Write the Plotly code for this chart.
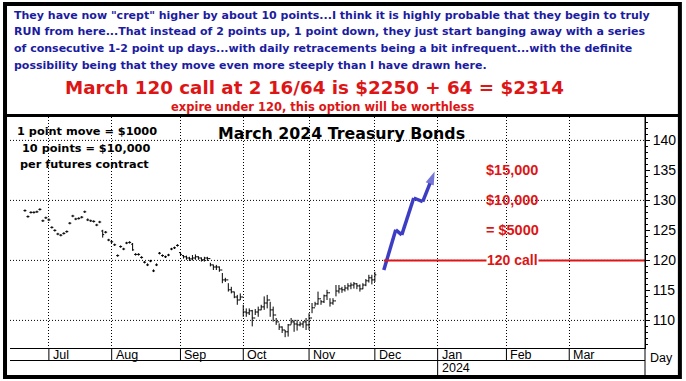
import plotly.graph_objects as go
import pandas as pd

# ---------------- data ----------------
first_bar_date = "2023-06-21"
closes = [128.3,127.3,128.0,128.0,128.1,128.5,126.6,127.1,126.75,125.5,
          125.0,124.4,124.2,124.5,124.8,126.2,127.4,126.9,127.0,127.2,
          128.1,126.75,126.6,126.5,125.9,126.4,124.3,124.7,123.4,123.1,
          122.6,120.8,122.3,121.9,122.9,123.0,121.75,121.0,121.0,120.5,
          119.7,119.25,119.9,118.25,119.25,121.2,120.8,120.6,120.9,121.9,
          122.1,122.5,121.0,120.6,120.4,120.25,120.4,120.6,120.4,120.1,
          120.4,120.3,119.25,118.9,118.9,118.4,116.75,116.75,115.1,114.75,
          113.9,113.4,113.9,111.4,111.25,111.6,110.4,111.4,111.75,112.25,
          112.9,113.4,111.75,110.9,109.75,108.9,108.4,108.1,109.25,109.75,
          109.4,109.25,109.4,109.75,109.25,110.4,112.1,112.75,113.6,113.1,
          114.1,114.6,112.9,113.25,114.9,115.25,115.1,115.4,115.75,115.9,
          116.1,115.75,115.25,115.9,116.6,117.1,116.75,117.6]
opens = [128.3,127.3,128.0,128.0,128.1,128.5,126.6,127.1,126.75,125.5,
         125.0,124.4,124.2,124.5,124.8,126.2,127.4,126.9,127.0,127.2,
         128.1,126.75,126.6,126.5,125.9,126.4,124.9,124.7,123.4,123.1,
         122.6,120.8,122.3,121.9,122.9,123.0,122.7,121.0,121.0,120.5,
         119.7,119.25,119.9,118.25,119.25,121.2,120.8,120.6,120.9,121.9,
         122.1,122.5,121.3,120.8,120.6,120.4,120.25,120.4,120.6,120.4,
         120.1,120.4,120.3,119.25,118.9,118.9,118.4,116.75,116.75,115.1,
         114.75,113.9,113.4,113.9,111.4,111.25,111.6,110.4,111.4,111.75,
         112.25,112.9,113.4,111.75,110.9,109.75,108.9,108.4,108.1,109.25,
         109.75,109.4,109.25,109.4,109.75,109.25,110.4,112.1,112.75,113.6,
         113.1,114.1,114.6,112.9,113.25,114.9,115.25,115.1,115.4,115.75,
         115.9,116.1,115.75,115.25,115.9,116.6,117.1,116.75]
highs = [128.5,127.5,128.2,128.2,128.3,128.7,126.8,127.3,127.0,125.7,
         125.2,124.6,124.4,124.7,125.0,126.4,127.6,127.1,127.2,127.4,
         128.3,127.0,126.8,126.7,126.1,126.6,125.1,124.9,123.6,123.3,
         122.8,121.0,122.5,122.1,123.1,123.2,122.9,121.2,121.2,120.7,
         119.9,119.5,120.1,118.5,119.5,121.4,121.0,120.8,121.1,122.1,
         122.3,122.7,121.4,120.9,120.8,120.6,120.9,121.0,120.7,120.5,
         120.6,120.6,119.6,119.3,119.25,119.0,117.9,117.1,116.2,115.6,
         114.8,114.25,114.5,112.6,112.0,112.0,111.75,111.9,112.3,112.6,
         114.0,114.25,113.1,112.3,110.4,109.5,109.0,108.4,109.4,110.4,
         110.1,110.1,109.8,109.9,110.4,111.2,112.9,113.1,114.8,113.4,
         114.3,115.1,113.7,113.7,115.9,115.9,115.6,115.9,116.2,116.3,
         116.4,116.2,116.0,116.2,116.9,117.6,117.6,118.1]
lows = [128.1,127.1,127.8,127.8,127.9,128.3,126.4,126.9,126.55,125.3,
        124.8,124.2,124.0,124.3,124.6,126.0,127.2,126.7,126.8,127.0,
        127.9,126.55,126.4,126.3,125.7,126.2,123.8,124.5,123.2,122.9,
        122.4,120.6,122.1,121.7,122.7,122.8,121.6,120.8,120.8,120.3,
        119.5,119.05,119.7,118.05,119.05,121.0,120.6,120.4,120.7,121.7,
        121.9,122.3,120.8,120.3,120.1,119.9,120.0,120.1,120.1,119.8,
        119.8,119.9,119.0,118.4,118.4,118.1,116.2,116.4,114.8,114.5,
        113.7,112.6,113.4,110.6,110.6,110.9,109.0,110.9,110.6,111.7,
        111.75,112.0,110.6,109.8,109.25,108.4,107.9,107.2,107.3,109.3,
        108.1,108.3,109.0,108.75,108.4,108.4,111.2,112.3,112.6,112.6,
        112.9,113.4,112.3,112.6,114.0,114.5,114.6,114.8,115.0,115.2,
        115.3,115.2,114.8,115.2,115.7,116.3,116.0,116.4]

proj_dates = ["2023-12-06","2023-12-12","2023-12-14","2023-12-20","2023-12-25","2023-12-29"]
proj_values = [118.4,125.1,124.25,130.4,129.8,134.8]

strike = 120
strike_label = "120 call"
profit_levels = [135, 130, 125]
profit_labels = ["$15,000", "$10,000", "= $5000"]
label_date = "2024-02-05"

grid_levels = [110, 120, 130, 140]
y_ticks = [110, 115, 120, 125, 130, 135, 140]
month_starts = ["2023-07-03","2023-08-01","2023-09-01","2023-10-02","2023-11-01",
                "2023-12-01","2024-01-01","2024-02-01","2024-03-01"]
month_labels = ["Jul","Aug","Sep","Oct","Nov","Dec","Jan","Feb","Mar"]
year_label = "2024"
year_start = "2024-01-01"
x_range = ["2023-06-14", "2024-04-05 08:00"]
y_range = [105.4, 143.9]

title = "March 2024 Treasury Bonds"
notes_left = ["1 point move = $1000", "10 points = $10,000", "per futures contract"]
header_lines = [
    'They have now "crept" higher by about 10 points...I think it is highly probable that they begin to truly',
    'RUN from here...That instead of 2 points up, 1 point down, they just start banging away with a series',
    'of consecutive 1-2 point up days...with daily retracements being a bit infrequent...with the definite',
    'possibility being that they move even more steeply than I have drawn here.',
]
headline = "March 120 call at 2 16/64 is $2250 + 64 = $2314"
subline = "expire under 120, this option will be worthless"

# ---------------- layout helpers ----------------
W, H = 686, 381
L, R, T, B = 10, 647, 117, 348
def px(X):
    return (X - L) / (R - L)
def py(Y):
    return (B - Y) / (B - T)

FONT = "Liberation Sans"
WIDE = "DejaVu Sans"
BLUE_TXT = "#1c1ca0"
RED = "#dd1515"
ARROW = "#3d3dc4"

dates = pd.bdate_range(first_bar_date, periods=len(closes))

fig = go.Figure()
fig.add_trace(go.Ohlc(
    x=dates, open=opens, high=highs, low=lows, close=closes,
    increasing=dict(line=dict(color="black", width=1)),
    decreasing=dict(line=dict(color="black", width=1)),
    tickwidth=0.5, showlegend=False, hoverinfo="skip"))

fig.add_trace(go.Scatter(
    x=proj_dates, y=proj_values, mode="lines+markers",
    line=dict(color=ARROW, width=3.5),
    marker=dict(symbol="arrow", size=[0]*(len(proj_values)-1) + [14],
                angleref="previous", color=ARROW, line=dict(width=0)),
    showlegend=False, hoverinfo="skip"))

shapes = []
for g in grid_levels:
    shapes.append(dict(type="line", xref="paper", yref="y", x0=0, x1=1, y0=g, y1=g,
                       line=dict(color="black", width=1, dash="1px,2px"), layer="below"))
shapes.append(dict(type="line", xref="x", yref="y", x0=proj_dates[0], x1=x_range[1],
                   y0=strike, y1=strike, line=dict(color=RED, width=2)))
shapes.append(dict(type="line", xref="paper", yref="paper", x0=0, x1=1,
                   y0=py(360.5), y1=py(360.5), line=dict(color="black", width=1)))
for d in month_starts:
    bottom = 376 if d == year_start else 360.5
    shapes.append(dict(type="line", xref="x", yref="paper", x0=d, x1=d,
                       y0=py(348), y1=py(bottom), line=dict(color="black", width=1)))
shapes.append(dict(type="line", xref="paper", yref="paper", x0=1, x1=1,
                   y0=py(116), y1=py(377), line=dict(color="black", width=1)))
shapes.append(dict(type="line", xref="paper", yref="paper", x0=px(5), x1=px(682),
                   y0=py(115.5), y1=py(115.5), line=dict(color="black", width=3)))
shapes.append(dict(type="rect", xref="paper", yref="paper", x0=px(5), x1=px(682),
                   y0=py(4), y1=py(377), line=dict(color="black", width=4)))

ann = []
for i, t in enumerate(header_lines):
    ann.append(dict(text="<b>%s</b>" % t, xref="paper", yref="paper", x=px(12),
                    y=py(15 + i * 16.7), xanchor="left", yanchor="middle", showarrow=False,
                    font=dict(family=WIDE, size=11, color=BLUE_TXT)))
ann.append(dict(text="<b>%s</b>" % headline, xref="paper", yref="paper", x=px(315), y=py(88),
                xanchor="center", yanchor="middle", showarrow=False,
                font=dict(family=WIDE, size=18.3, color=RED)))
ann.append(dict(text="<b>%s</b>" % subline, xref="paper", yref="paper", x=px(323), y=py(106.5),
                xanchor="center", yanchor="middle", showarrow=False,
                font=dict(family=WIDE, size=11.5, color=RED)))
ann.append(dict(text="<b>%s</b>" % title, xref="paper", yref="paper", x=px(343), y=py(133),
                xanchor="center", yanchor="middle", showarrow=False,
                font=dict(family=WIDE, size=15.8, color="black")))
for t, X, Y in zip(notes_left, [15, 20, 18], [131, 148, 164]):
    ann.append(dict(text="<b>%s</b>" % t, xref="paper", yref="paper", x=px(X), y=py(Y),
                    xanchor="left", yanchor="middle", showarrow=False,
                    font=dict(family=WIDE, size=11.3, color="black")))
for lv, lb in zip(profit_levels, profit_labels):
    ann.append(dict(text="<b>%s</b>" % lb, x=label_date, y=lv, xref="x", yref="y",
                    xanchor="center", yanchor="middle", showarrow=False,
                    font=dict(family=FONT, size=14.5, color=RED)))
ann.append(dict(text="<b>%s</b>" % strike_label, x=label_date, y=strike, xref="x", yref="y",
                xanchor="center", yanchor="middle", showarrow=False, bgcolor="white",
                borderpad=0, font=dict(family=FONT, size=14, color=RED)))
for d, m in zip(month_starts, month_labels):
    ann.append(dict(text=m, x=d, xref="x", yref="paper", y=py(354.5), xshift=2,
                    xanchor="left", yanchor="middle", showarrow=False,
                    font=dict(family=FONT, size=12.5, color="black")))
ann.append(dict(text=year_label, x=year_start, xref="x", yref="paper", y=py(368), xshift=2,
                xanchor="left", yanchor="middle", showarrow=False,
                font=dict(family=FONT, size=12.5, color="black")))
ann.append(dict(text="Day", xref="paper", yref="paper", x=px(664), y=py(358),
                xanchor="center", yanchor="middle", showarrow=False,
                font=dict(family=FONT, size=12.5, color="black")))

fig.update_layout(
    width=W, height=H, autosize=False,
    margin=dict(l=L, r=W - R, t=T, b=H - B, pad=0),
    paper_bgcolor="white", plot_bgcolor="white",
    shapes=shapes, annotations=ann, showlegend=False,
    xaxis=dict(type="date", range=x_range, rangebreaks=[dict(bounds=["sat", "mon"])],
               rangeslider=dict(visible=False), tickmode="array", tickvals=month_starts,
               showticklabels=False, ticks="", showgrid=True, gridcolor="black",
               griddash="1px,2px", gridwidth=1, showline=True, linecolor="black",
               linewidth=1, zeroline=False, fixedrange=True),
    yaxis=dict(side="right", range=y_range, tickmode="array", tickvals=y_ticks,
               ticks="outside", ticklen=4, tickcolor="black", showgrid=False,
               showline=True, linecolor="black", linewidth=1, zeroline=False,
               tickfont=dict(family=FONT, size=14, color="black"),
               minor=dict(dtick=1, tick0=110, ticks="outside", ticklen=2,
                          tickcolor="black", showgrid=False)),
)

fig.write_html("out.html", config={"displayModeBar": False},
               post_script="document.body.style.margin='0px';")
